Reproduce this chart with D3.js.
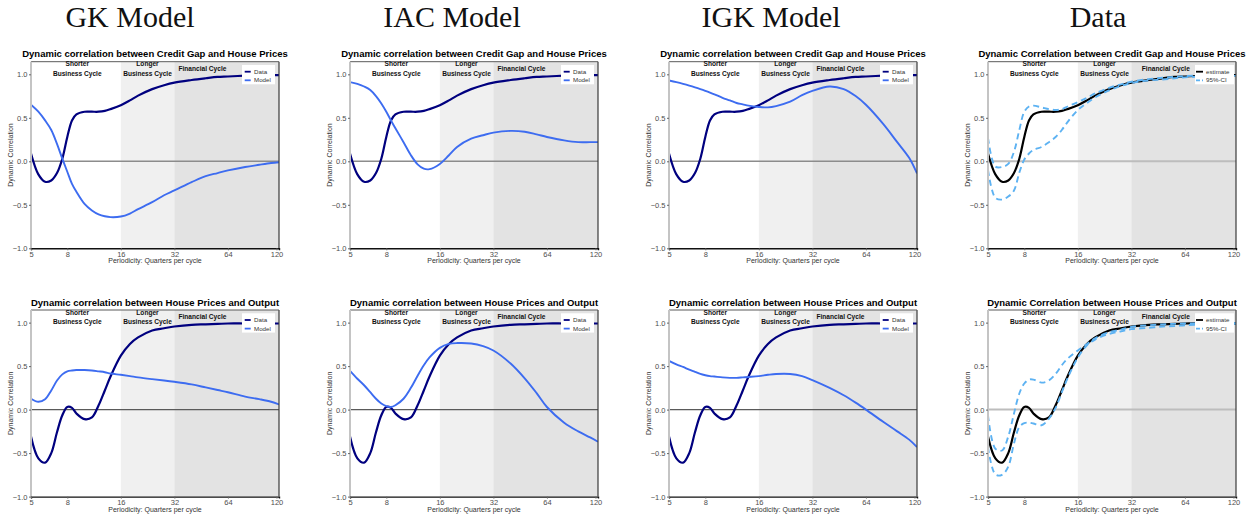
<!DOCTYPE html>
<html><head><meta charset="utf-8">
<script src="https://cdn.jsdelivr.net/npm/d3@7"></script>
<style>body{margin:0;background:#fff}svg{display:block}</style>
</head><body>
<svg id="chart" width="1256" height="523"></svg>
<script>
// ---------- data ----------
const periods = [5,5.5,6,6.5,7,7.5,8,8.5,9,10,11,12,13,14,16,18,20,24,28,32,40,48,56,64,80,96,112,124];
const xTickValues = [5,8,16,32,64,120];
const yTickValues = [-1,-0.5,0,0.5,1];
const columnHeaders = ["GK Model","IAC Model","IGK Model","Data"];
const titleCredit = "Dynamic correlation between Credit Gap and House Prices";
const titleOutput = "Dynamic correlation between House Prices and Output";
const titleCreditData = "Dynamic Correlation between Credit Gap and House Prices";
const titleOutputData = "Dynamic Correlation between House Prices and Output";
const cycleLabels = [["Shorter","Business Cycle"],["Longer","Business Cycle"],["Financial Cycle"]];
const cycleBands = [[16,32],[32,124]];

const dataCredit  = [0.09,-0.15,-0.235,-0.22,-0.135,0.03,0.28,0.47,0.54,0.57,0.57,0.57,0.58,0.60,0.645,0.70,0.755,0.83,0.875,0.905,0.935,0.955,0.97,0.975,0.985,0.99,0.99,0.99];
const gkCredit    = [0.65,0.57,0.47,0.36,0.2,0.03,-0.12,-0.26,-0.35,-0.49,-0.565,-0.61,-0.632,-0.642,-0.635,-0.6,-0.55,-0.47,-0.39,-0.335,-0.24,-0.17,-0.135,-0.105,-0.065,-0.04,-0.02,-0.01];
const iacCredit   = [0.91,0.89,0.86,0.82,0.75,0.665,0.57,0.47,0.38,0.22,0.07,-0.035,-0.085,-0.09,-0.03,0.07,0.165,0.26,0.3,0.33,0.35,0.34,0.31,0.28,0.24,0.22,0.22,0.22];
const igkCredit   = [0.93,0.91,0.89,0.87,0.85,0.83,0.81,0.79,0.77,0.73,0.70,0.67,0.655,0.64,0.625,0.62,0.635,0.685,0.76,0.81,0.86,0.83,0.75,0.65,0.43,0.22,0.04,-0.14];
const ciUpCredit  = [0.27,-0.06,-0.065,-0.03,0.11,0.36,0.57,0.63,0.64,0.62,0.60,0.59,0.60,0.63,0.68,0.73,0.78,0.845,0.885,0.915,0.945,0.96,0.97,0.98,0.985,0.99,0.99,0.99];
const ciLoCredit  = [-0.1,-0.42,-0.44,-0.405,-0.335,-0.13,0.02,0.09,0.13,0.165,0.22,0.28,0.36,0.45,0.59,0.67,0.735,0.815,0.865,0.9,0.93,0.94,0.955,0.965,0.975,0.98,0.98,0.985];

const dataOutput  = [-0.31,-0.56,-0.61,-0.5,-0.26,-0.065,0.03,0.02,-0.045,-0.11,-0.09,0.05,0.22,0.38,0.62,0.755,0.83,0.91,0.935,0.955,0.975,0.98,0.985,0.99,0.99,0.99,0.99,0.99];
const gkOutput    = [0.125,0.09,0.12,0.22,0.335,0.405,0.44,0.45,0.455,0.455,0.45,0.44,0.43,0.415,0.40,0.385,0.37,0.35,0.335,0.32,0.29,0.255,0.225,0.2,0.15,0.12,0.09,0.06];
const iacOutput   = [0.445,0.355,0.28,0.2,0.125,0.07,0.04,0.03,0.05,0.125,0.25,0.39,0.51,0.6,0.71,0.755,0.765,0.76,0.73,0.68,0.53,0.36,0.19,0.03,-0.15,-0.25,-0.32,-0.37];
const igkOutput   = [0.56,0.52,0.49,0.46,0.435,0.41,0.395,0.385,0.38,0.37,0.365,0.365,0.37,0.375,0.385,0.40,0.41,0.41,0.385,0.34,0.25,0.165,0.08,0.0,-0.14,-0.25,-0.345,-0.43];
const ciUpOutput  = [-0.065,-0.45,-0.47,-0.31,-0.045,0.185,0.3,0.345,0.345,0.31,0.335,0.41,0.51,0.585,0.68,0.755,0.82,0.89,0.92,0.95,0.97,0.98,0.985,0.99,0.99,0.99,0.99,0.99];
const ciLoOutput  = [-0.43,-0.745,-0.75,-0.655,-0.39,-0.2,-0.155,-0.15,-0.16,-0.18,-0.105,0.02,0.2,0.36,0.6,0.74,0.805,0.87,0.9,0.925,0.94,0.955,0.96,0.97,0.98,0.985,0.99,0.99];

// ---------- layout & style ----------
const colLeft = [31, 350, 669, 988];
const rowTop = [61.7, 310];
const plotW = 248, plotH = 186.6;
const headerX = [130, 452, 771, 1098];
const NAVY = "#00007f", ROYAL = "#3d6cf0", CI = "#5db2f2";
const FONT = "'Liberation Sans', Arial, sans-serif";

const svg = d3.select("#chart");

// column headers
svg.selectAll("text.hdr").data(columnHeaders).join("text")
  .attr("class","hdr")
  .attr("x",(d,i)=>headerX[i]).attr("y",27)
  .attr("text-anchor","middle")
  .style("font-family","'Liberation Serif','Times New Roman',serif")
  .style("font-size","30px").attr("fill","#111")
  .text(d=>d);

const panels = [];
const topModels = [gkCredit, iacCredit, igkCredit];
const botModels = [gkOutput, iacOutput, igkOutput];
for (let c=0;c<3;c++){
  panels.push({row:0,col:c,title:titleCredit,isData:false,
    lines:[{v:dataCredit,color:NAVY,w:2.2},{v:topModels[c],color:ROYAL,w:1.9}],
    legend:[{label:"Data",color:NAVY},{label:"Model",color:ROYAL}]});
  panels.push({row:1,col:c,title:titleOutput,isData:false,
    lines:[{v:dataOutput,color:NAVY,w:2.2},{v:botModels[c],color:ROYAL,w:1.9}],
    legend:[{label:"Data",color:NAVY},{label:"Model",color:ROYAL}]});
}
panels.push({row:0,col:3,title:titleCreditData,isData:true,
  lines:[{v:dataCredit,color:"#000",w:2.2},{v:ciUpCredit,color:CI,w:1.9,dash:"6,4"},{v:ciLoCredit,color:CI,w:1.9,dash:"6,4"}],
  legend:[{label:"estimate",color:"#000"},{label:"95%-CI",color:CI,dash:"4,2"}]});
panels.push({row:1,col:3,title:titleOutputData,isData:true,
  lines:[{v:dataOutput,color:"#000",w:2.2},{v:ciUpOutput,color:CI,w:1.9,dash:"6,4"},{v:ciLoOutput,color:CI,w:1.9,dash:"6,4"}],
  legend:[{label:"estimate",color:"#000"},{label:"95%-CI",color:CI,dash:"4,2"}]});

panels.forEach((p,pi)=>{
  const L = colLeft[p.col], T = rowTop[p.row];
  const x = d3.scaleLog().domain([5,124]).range([L, L+plotW]);
  const y = d3.scaleLinear().domain([-1,1.145]).range([T+plotH, T]);
  const g = svg.append("g");

  const clipId = "clip"+pi;
  g.append("clipPath").attr("id",clipId).append("rect")
    .attr("x",L).attr("y",T).attr("width",plotW).attr("height",plotH);

  // shading bands
  g.selectAll("rect.band").data(cycleBands).join("rect")
    .attr("x",d=>x(d[0])).attr("y",T)
    .attr("width",d=>x(d[1])-x(d[0])).attr("height",plotH)
    .attr("fill",(d,i)=>i===0?"#f0f0f0":"#e3e3e3");

  // zero line
  const zStyle = p.isData ? {c:"#bdbdbd",w:2} : (p.row===0 ? {c:"#8c8c8c",w:1.6} : {c:"#5a5a5a",w:1.1});
  g.append("line").attr("x1",L).attr("x2",L+plotW).attr("y1",y(0)).attr("y2",y(0))
    .attr("stroke",zStyle.c).attr("stroke-width",zStyle.w);

  // series
  const line = d3.line().x((d,i)=>x(periods[i])).y(d=>y(d)).curve(d3.curveCatmullRom.alpha(0.5));
  const lg = g.append("g").attr("clip-path",`url(#${clipId})`);
  p.lines.forEach(s=>{
    lg.append("path").attr("d",line(s.v)).attr("fill","none")
      .attr("stroke",s.color).attr("stroke-width",s.w)
      .attr("stroke-dasharray",s.dash||null).attr("stroke-linejoin","round");
  });

  // borders
  g.append("line").attr("x1",L+plotW).attr("x2",L+plotW).attr("y1",T).attr("y2",T+plotH).attr("stroke","#3a3a3a").attr("stroke-width",1.2);
  g.append("line").attr("x1",L).attr("x2",L+plotW).attr("y1",T).attr("y2",T).attr("stroke","#5a5a5a").attr("stroke-width",1);
  g.append("line").attr("x1",L).attr("x2",L).attr("y1",T).attr("y2",T+plotH).attr("stroke","#c4c4c4").attr("stroke-width",2);

  // axes
  const xa = d3.axisBottom(x).tickValues(xTickValues).tickFormat(d3.format("d")).tickSize(2).tickPadding(1.5);
  const xg = g.append("g").attr("transform",`translate(0,${T+plotH})`).call(xa);
  xg.select(".domain").attr("stroke","#111").attr("stroke-width",1.4);
  xg.selectAll(".tick line").attr("stroke","#666");
  xg.selectAll("text").attr("fill","#4d4d4d").style("font-family",FONT).style("font-size","7.5px");

  const ya = d3.axisLeft(y).tickValues(yTickValues).tickFormat(d3.format(".1f")).tickSize(2).tickPadding(1.5);
  const yg = g.append("g").attr("transform",`translate(${L},0)`).call(ya);
  yg.select(".domain").remove();
  yg.selectAll(".tick line").attr("stroke","#666");
  yg.selectAll("text").attr("fill","#4d4d4d").style("font-family",FONT).style("font-size","7.5px");

  // axis titles
  g.append("text").attr("x",L+plotW/2).attr("y",T+plotH+15).attr("text-anchor","middle")
    .style("font-family",FONT).style("font-size","7px").attr("fill","#333")
    .text("Periodicity: Quarters per cycle");
  g.append("text").attr("transform",`translate(${L-18},${T+plotH/2}) rotate(-90)`)
    .attr("text-anchor","middle").style("font-family",FONT).style("font-size","7px").attr("fill","#333")
    .text("Dynamic Correlation");

  // title
  g.append("text").attr("x",L+plotW/2).attr("y",T-4.4).attr("text-anchor","middle")
    .style("font-family",FONT).style("font-size","9.5px").style("font-weight","bold").attr("fill","#000")
    .text(p.title);

  // cycle annotations
  const annX = [9.1, 22.6, p.isData ? 50 : 46];
  cycleLabels.forEach((lbl,i)=>{
    const t = g.append("text").attr("text-anchor","middle")
      .style("font-family",FONT).style("font-size","6.6px").style("font-weight","bold").attr("fill","#111");
    if (lbl.length===2){
      t.append("tspan").attr("x",x(annX[i])).attr("y",T+4.6).text(lbl[0]);
      t.append("tspan").attr("x",x(annX[i])).attr("y",T+14.2).text(lbl[1]);
    } else {
      t.append("tspan").attr("x",x(annX[i])).attr("y",T+9.2).text(lbl[0]);
    }
  });

  // legend
  const lw = p.isData ? 39 : 33;
  const lx = L+plotW-(p.isData?2:4)-lw, ly = T+3.3;
  const leg = g.append("g");
  leg.append("rect").attr("x",lx).attr("y",ly).attr("width",lw).attr("height",19.3).attr("fill","#fff");
  p.legend.forEach((e,i)=>{
    const yy = ly+6.7+i*8.6;
    leg.append("line").attr("x1",lx+(p.isData?1:2.7)).attr("x2",lx+(p.isData?8:8.7)).attr("y1",yy).attr("y2",yy)
      .attr("stroke",e.color).attr("stroke-width",1.8).attr("stroke-dasharray",e.dash||null);
    leg.append("text").attr("x",lx+(p.isData?11:12)).attr("y",yy+2.1)
      .style("font-family",FONT).style("font-size","6.2px").attr("fill","#333").text(e.label);
  });
});
</script>
</body></html>
